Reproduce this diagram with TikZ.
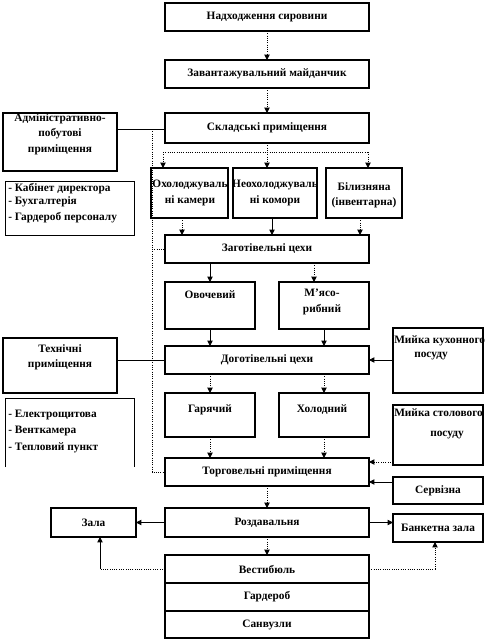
\documentclass[tikz,border=0pt]{standalone}
\usepackage{fontspec}
\setmainfont{Liberation Serif}
\usetikzlibrary{arrows.meta,calc}
\newcommand\Bx[6]{%
  \pgfmathsetmacro\bw{(#4-#2)*0.75}\pgfmathsetmacro\bh{(#5-#3)*0.75}%
  \node[box,minimum width=\bw pt,minimum height=\bh pt] (#1) at ({(#2+#4)/2},{(#3+#5)/2}) {#6};}
\begin{document}
\begin{tikzpicture}[x=0.75pt,y=-0.75pt,
  box/.style={draw,line width=1pt,rectangle,inner sep=0pt,outer sep=0pt,align=center,font=\bfseries\fontsize{8.5}{11.5}\selectfont},
  txt/.style={inner sep=0pt,align=center,font=\bfseries\fontsize{8.5}{11.5}\selectfont},
  ltxt/.style={inner sep=0pt,anchor=west,font=\bfseries\fontsize{8.5}{11.5}\selectfont},
  ln/.style={line width=0.6pt},
  dl/.style={line width=0.7pt,densely dotted},
  ar/.style={-{Triangle[length=4pt,width=4pt]}}]
\useasboundingbox (0,0) rectangle (486,643);
% boxes
\Bx{n1}{165}{3}{369}{31}{Надходження сировини}
\Bx{n2}{165}{60}{369}{88}{Завантажувальний майданчик}
\Bx{n3}{165}{113}{369}{143}{Складські приміщення}
\Bx{adm}{3}{113}{117}{171}{}
\node[txt] (admt) at (60,134) {Адміністративно-\\побутові\\приміщення};
\node[draw,line width=0.6pt,minimum width=96.75pt,minimum height=40.5pt,inner sep=0pt] (list1) at (69.5,208) {};
\node[ltxt] (l1a) at (8,189) {- Кабінет директора};
\node[ltxt] (l1b) at (8,202) {- Бухгалтерія};
\node[ltxt] (l1c) at (8,218) {- Гардероб персоналу};
\Bx{ohol}{151}{168}{228}{218}{}
\node[txt] (oholt) at (190,193) {Охолоджуваль\\ні камери};
\Bx{neohol}{233}{168}{317}{218}{}
\node[txt] (neoholt) at (275,193) {Неохолоджуваль\\ні комори};
\Bx{bilyz}{326}{168}{402}{218}{}
\node[txt] (bilyzt) at (364,195) {Білизняна\\(інвентарна)};
\Bx{zag}{165}{235}{369}{263}{Заготівельні цехи}
\Bx{ovoch}{165}{282}{255}{329}{}
\node[txt] (ovocht) at (210,295) {Овочевий};
\Bx{myaso}{279}{282}{369}{329}{}
\node[txt] (myasot) at (322,302) {М'ясо-\\рибний};
\Bx{tech}{3}{338}{117}{393}{}
\node[txt] (techt) at (60,357) {Технічні\\приміщення};
\Bx{dogot}{165}{346}{369}{374}{Доготівельні цехи}
\Bx{myika1}{393}{328}{483}{393}{}
\node[ltxt] (m1a) at (394,341) {Мийка кухонного};
\node[txt] (m1b) at (431,356) {посуду};
\draw[line width=0.6pt] (5,467) -- (5,398) -- (134,398) -- (134,467);
\node[ltxt] (l2a) at (8,415) {- Електрощитова};
\node[ltxt] (l2b) at (8,431) {- Венткамера};
\node[ltxt] (l2c) at (8,448) {- Тепловий пункт};
\Bx{hary}{165}{393}{255}{437}{}
\node[txt] (haryt) at (210,410) {Гарячий};
\Bx{hol}{279}{393}{369}{437}{}
\node[txt] (holt) at (322,410) {Холодний};
\Bx{myika2}{393}{405}{483}{465}{}
\node[ltxt] (m2a) at (394,413) {Мийка столового};
\node[txt] (m2b) at (447,435) {посуду};
\Bx{torg}{165}{458}{369}{486}{Торговельні приміщення}
\Bx{serv}{393}{477}{483}{504}{Сервізна}
\Bx{zala}{51}{508}{136}{537}{Зала}
\Bx{rozd}{165}{508}{369}{537}{Роздавальня}
\Bx{banket}{393}{514}{483}{542}{Банкетна зала}
\Bx{vest}{165}{555}{369}{583}{Вестибюль}
\Bx{gard}{165}{583}{369}{611}{Гардероб}
\Bx{san}{165}{611}{369}{638}{Санвузли}
% connectors
\draw[dl,ar] (n1) -- (n2);
\draw[dl,ar] (n2) -- (n3);
\coordinate (hl1) at (163,152);
\coordinate (hl3) at (368,152);
\draw[dl] (n3.south) -- (n3.south |- hl1);
\draw[dl] (hl1) -- (hl3);
\draw[dl,ar] (hl1) -- (hl1 |- ohol.north);
\draw[dl,ar] (n3.south |- hl1) -- (n3.south |- neohol.north);
\draw[dl,ar] (hl3) -- (hl3 |- bilyz.north);
\draw[dl,ar] (182,0 |- ohol.south) -- (182,0 |- zag.north);
\draw[ln,ar] (272,0 |- neohol.south) -- (272,0 |- zag.north);
\draw[dl,ar] (360,0 |- bilyz.south) -- (360,0 |- zag.north);
\draw[ln,ar] (ovoch.north |- zag.south) -- (ovoch.north);
\draw[dl,ar] (314,0 |- zag.south) -- (314,0 |- myaso.north);
\draw[ln,ar] (ovoch.south) -- (ovoch.south |- dogot.north);
\draw[ln,ar] (myaso.south) -- (myaso.south |- dogot.north);
\draw[dl,ar] (hary.north |- dogot.south) -- (hary.north);
\draw[dl,ar] (hol.north |- dogot.south) -- (hol.north);
\draw[dl,ar] (hary.south) -- (hary.south |- torg.north);
\draw[dl,ar] (hol.south) -- (hol.south |- torg.north);
\coordinate (lt) at (152,129);
\coordinate (lb) at (152,472);
\draw[ln] (adm.east |- lt) -- (n3.west |- lt);
\draw[dl] (lt) -- (lb) -- (torg.west);
\draw[dl] (lt |- zag.west) -- (zag.west);
\draw[ln] (tech.east |- dogot.west) -- (dogot.west);
\draw[ln,ar] (myika1.west |- dogot.east) -- (dogot.east);
\draw[dl,ar] (myika2.west |- 0,462) -- (torg.east |- 0,462);
\draw[ln,ar] (serv.west |- 0,482) -- (torg.east |- 0,482);
\draw[dl,ar] (torg) -- (rozd);
\draw[ln,ar] (rozd.west) -- (zala.east);
\draw[ln,ar] (rozd.east) -- (rozd.east -| banket.west);
\draw[dl,ar] (rozd) -- (vest);
\coordinate (vl) at (100,569);
\coordinate (vr) at (435,569);
\draw[dl] (vest.west) -- (vl);
\draw[ln,ar] (vl) -- (vl |- zala.south);
\draw[dl] (vest.east) -- (vr);
\draw[dl,ar] (vr) -- (vr |- banket.south);
\end{tikzpicture}
\end{document}
